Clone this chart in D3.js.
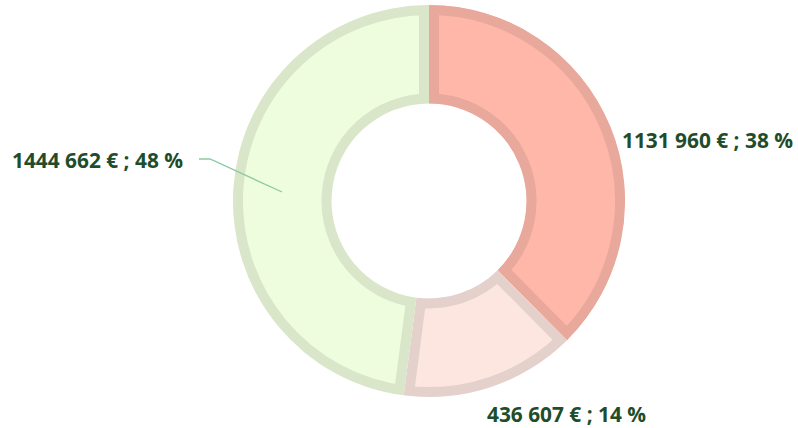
<!DOCTYPE html>
<html><head><meta charset="utf-8">
<script src="https://cdn.jsdelivr.net/npm/d3@7"></script>
<style>html,body{margin:0;padding:0;background:#fff;}svg{display:block;}</style>
</head><body>
<svg id="chart" width="798" height="428"></svg>
<script>
const categories = ["A", "B", "C"];
const values = [1131960, 436607, 1444662];
const labels = ["1131 960 € ; 38 %", "436 607 € ; 14 %", "1444 662 € ; 48 %"];
const fills = ["#FEB7A8", "#FDE6E0", "#EEFDDD"];
const strokes = ["#E8A99C", "#E4D1CC", "#D9E6C9"];

const W = 798, H = 428;
const cx = 429, cy = 201, R = 196, r = 97.5, border = 10;
const svg = d3.select("#chart");
const g = svg.append("g").attr("transform", `translate(${cx},${cy})`);

const pie = d3.pie().sort(null).value(d => d)(values);
const arc = d3.arc().innerRadius(r).outerRadius(R);

const defs = svg.append("defs");
pie.forEach((p, i) => {
  defs.append("clipPath").attr("id", "clip" + i)
    .append("path").attr("d", arc(p));
});
g.selectAll("path.slice").data(pie).enter().append("path")
  .attr("class", "slice")
  .attr("d", d => arc(d))
  .attr("fill", (d, i) => fills[i])
  .attr("stroke", (d, i) => strokes[i])
  .attr("stroke-width", border * 2)
  .attr("stroke-linejoin", "miter")
  .attr("clip-path", (d, i) => `url(#clip${i})`);

// label layout (text left, baseline, width)
const labelPos = [[622, 148, 171], [487, 422, 159], [12, 168, 171]];
svg.selectAll("text.lbl").data(labels).enter().append("text")
  .attr("class", "lbl")
  .attr("x", (d, i) => labelPos[i][0])
  .attr("y", (d, i) => labelPos[i][1])
  .attr("fill", "#1F4D2B")
  .attr("textLength", (d, i) => labelPos[i][2])
  .attr("lengthAdjust", "spacingAndGlyphs")
  .style("font", "bold 21px 'Open Sans', sans-serif")
  .text(d => d);

// leader line for green slice
svg.append("polyline")
  .attr("points", "199,159 210,159 282,192")
  .attr("fill", "none").attr("stroke", "#8DC99E").attr("stroke-width", 1.3);
</script>
</body></html>
